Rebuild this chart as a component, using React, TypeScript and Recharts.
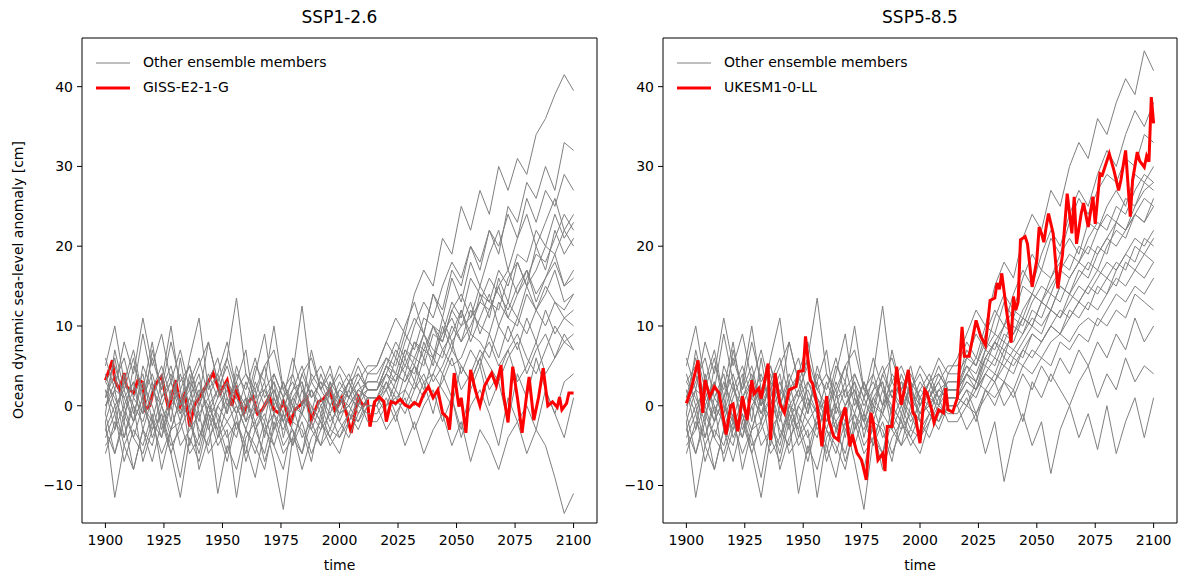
import { LineChart, Line, XAxis, YAxis, ReferenceArea } from "recharts";

// shared historical period (same runs in both panels), 4-yearly
const HIST_YEARS = [1900, 1904, 1908, 1912, 1916, 1920, 1924, 1928, 1932, 1936, 1940, 1944, 1948, 1952, 1956, 1960, 1964, 1968, 1972, 1976, 1980, 1984, 1988, 1992, 1996, 2000, 2004, 2008, 2012];
const FUT_YEARS = [2016, 2020, 2024, 2028, 2032, 2036, 2040, 2044, 2048, 2052, 2056, 2060, 2064, 2068, 2072, 2076, 2080, 2084, 2088, 2092, 2096, 2100];

const HIST = [
  [5, 10, 3, 7, 1, 6, 2, 8, 3, 5, 0, 4, 1, 6, 13.5, 4, 2, 5, 0, 3, -1, 4, 1, 3, 2, 5, 3, 6, 4],
  [-2, -11.5, -5, -8, -3, -7, -2, -6, -11.5, -4, -7, -2, -11, -5, -8, -3, -6, -2, -7, -13, -4, -6, -2, -5, -3, -4, -1, -3, 0],
  [1, 4, -1, 2, 9, 3, -2, 1, 4, 0, 3, -1, 2, 5, 1, -2, 3, 0, 2, -1, 4, 12.5, 3, 1, -1, 2, 4, 1, 3],
  [-3, 0, -5, -2, 1, -4, -1, -6, -2, 1, -3, -5, 0, -2, -4, 1, -3, -6, -1, -3, 0, -4, -2, 1, -2, 0, 2, -1, 1],
  [6, 2, 8, 4, 11, 5, 9, 3, 7, 2, 5, 8, 3, 6, 2, 4, 1, 5, 7, 2, 4, 0, 3, 5, 2, 4, 1, 3, 5],
  [-1, -6, -2, -8, -3, -5, 0, -4, -9, -2, -6, -1, -5, -3, -11.5, -4, -2, -7, -3, -1, -5, -2, -6, -3, -1, -4, -2, 0, -1],
  [2, -1, 3, 0, -2, 2, 5, 1, -1, 3, 1, -3, 0, 2, -1, 1, -2, 0, 3, -4, 1, -1, 2, 0, -3, 1, 0, 2, 1],
  [0, 3, 6, 1, 4, -2, 3, 10, 2, 5, 1, 8, 3, -1, 4, 2, 6, 1, 3, 0, 2, 5, 1, 3, 0, 2, 1, 4, 2],
  [-4, -1, -7, -3, -5, -1, -8, -3, -2, -6, -4, -1, -3, -7, -2, -5, -9, -3, -1, -5, -3, -8, -4, -2, -5, -3, -1, -2, 0],
  [3, 1, -2, 5, 2, 8, 1, 3, 0, 6, 11, 2, 4, 0, 3, 7, -1, 2, 4, 1, 3, 0, 7, 2, 4, 1, 3, 0, 2],
  [-5, -3, 0, -4, -6, -2, -4, 0, -5, -3, -1, -6, -4, -2, 0, -3, -5, -8, -2, -6, -4, -1, -3, -5, 0, -2, -4, -1, 1],
  [1, 6, 0, 3, -3, 1, 4, -2, 6, -1, 2, 0, -3, 3, 1, -1, 4, 9, 1, -2, 2, 3, -1, 4, 1, -1, 2, 5, 2],
  [2, -3, 4, -1, 3, 0, -4, 2, -2, 4, -1, 1, -4, 0, 3, -2, 0, 3, -3, 1, -2, 2, -1, -3, 2, 0, 3, 1, 2],
  [-2, 2, -4, 1, -1, 3, -3, 0, 2, -5, 0, 3, -2, 1, -3, 0, 2, -4, 1, -2, -5, 0, 2, -1, 3, -2, 1, 3, 0],
  [4, 0, 2, 6, 0, -3, 1, 4, 0, 2, -2, 3, 6, 1, -1, 3, 0, -2, 4, 1, 6, 2, 0, -2, 3, 1, -1, 2, 3],
  [-6, -2, -4, 0, -7, -3, -1, -5, -3, 0, -8, -4, -2, -6, -1, -7, -3, -1, -5, -8, -2, -3, -7, -1, -4, -6, -2, 1, -2],
  [0, 2, 1, -2, 5, 2, 0, 3, -1, 1, 4, -2, 1, 3, 0, -3, 1, 2, -1, 3, 0, -1, 4, 2, 0, 3, 1, 0, 4],
  [-1, 7, 2, -2, 1, 4, 0, -3, 1, 3, -4, 0, 2, -1, 5, 1, -3, 0, 2, -2, 1, 3, -3, 0, 2, -1, 0, 2, 1],
  [-3, -6, -1, -4, 0, -2, -6, -3, 1, -2, -5, 0, -1, -4, -2, -6, 0, -3, -5, -1, -3, -6, 0, -2, -4, -1, 0, -2, 1],
  [3, 5, 1, 3, -1, 7, 2, 5, 0, 3, 6, 1, 4, 8, 2, 0, 5, 3, 10, 2, 0, 4, 6, 2, 5, 0, 3, 4, 2],
];

const SSP126 = [
  [5, 8, 11, 9, 14, 17, 15, 21, 19, 25, 22, 27, 24, 30, 27, 31, 29, 34, 36, 39, 41.5, 39.5],
  [0, -3, -1, -5, -2, -6, -3, -1, -5, -2, -7, -3, -5, -8, -4, -2, -6, -3, -5, -9, -13.5, -11],
  [3, 6, 4, 8, 11, 9, 14, 12, 17, 15, 20, 18, 22, 19, 25, 23, 28, 26, 30, 27, 33, 32],
  [1, 4, 2, 6, 3, 8, 5, 10, 7, 12, 9, 14, 11, 16, 13, 18, 15, 20, 17, 22, 19, 21],
  [5, 8, 6, 10, 13, 9, 14, 11, 16, 13, 18, 15, 19, 22, 17, 21, 24, 20, 23, 26, 22, 24],
  [-1, 1, -2, 2, 0, 3, -1, 4, 1, -3, 2, 5, 0, 3, -2, 4, 1, 6, 2, -1, 3, 4],
  [1, 3, 0, 4, 2, 6, 3, 5, 8, 4, 7, 5, 9, 6, 10, 7, 11, 8, 12, 9, 11, 10],
  [2, 5, 3, 7, 5, 9, 6, 11, 8, 10, 13, 9, 12, 15, 11, 14, 17, 13, 16, 19, 15, 17],
  [0, 2, -1, 1, -3, 0, 2, -2, 1, -4, 0, 2, -1, -5, 1, -2, 0, -3, 2, -1, -4, 1],
  [2, 4, 7, 5, 8, 6, 10, 7, 9, 12, 8, 11, 14, 10, 13, 11, 15, 12, 14, 17, 13, 14],
  [1, -1, 2, 0, 3, 1, 4, 2, 0, 5, 3, 6, 2, 4, 7, 3, 5, 8, 4, 6, 9, 7],
  [2, 5, 8, 6, 10, 13, 11, 15, 18, 16, 20, 17, 22, 20, 24, 21, 26, 23, 27, 25, 29, 27],
  [2, 4, 3, 7, 6, 5, 9, 8, 12, 10, 11, 15, 13, 12, 16, 18, 15, 17, 20, 19, 22, 20],
  [0, 3, 1, 2, 5, 3, 4, 7, 5, 6, 9, 8, 6, 10, 8, 11, 9, 12, 10, 13, 11, 12],
  [3, 2, 6, 4, 8, 7, 10, 9, 13, 11, 16, 14, 13, 17, 15, 19, 18, 22, 20, 24, 21, 23],
  [-2, 0, 1, -1, 2, 4, 1, 3, 6, 2, 4, 7, 5, 3, 6, 8, 4, 7, 9, 6, 8, 7],
  [4, 6, 5, 9, 7, 11, 10, 8, 12, 14, 11, 13, 16, 14, 12, 15, 17, 14, 16, 18, 15, 16],
  [1, 2, 4, 3, 5, 2, 6, 4, 7, 5, 3, 6, 8, 5, 7, 9, 6, 4, 7, 10, 8, 9],
  [1, 0, 3, 5, 4, 7, 6, 9, 11, 8, 10, 13, 12, 15, 17, 14, 16, 19, 18, 21, 24, 22],
  [2, 5, 4, 3, 6, 9, 7, 6, 10, 8, 12, 10, 9, 13, 11, 10, 14, 12, 15, 13, 12, 14],
];

const SSP585 = [
  [6, 9, 12, 10, 15, 18, 16, 21, 24, 22, 27, 25, 30, 33, 31, 36, 34, 38, 41, 39, 44.5, 42],
  [0, -3, -1, -6, -2, -9.5, -4, -1, -5, -2, -8.5, -3, 0, -4, -1, -5.5, 0, -6, -2, 1, -4, 1],
  [3, 7, 5, 9, 12, 10, 14, 17, 15, 19, 22, 20, 24, 27, 25, 29, 32, 30, 34, 37, 35, 38],
  [1, 4, 2, 6, 8, 6, 10, 9, 12, 11, 14, 13, 16, 18, 17, 20, 19, 23, 22, 25, 27, 28],
  [5, 8, 6, 10, 9, 13, 11, 15, 14, 17, 16, 19, 21, 19, 23, 22, 25, 27, 25, 29, 28, 30],
  [-1, 1, -2, 2, 0, 3, 1, 4, 2, 5, 3, 6, 4, 7, 5, 8, 6, 9, 7, 11, 8, 10],
  [1, 3, 2, 5, 4, 7, 6, 8, 10, 9, 12, 11, 13, 15, 14, 16, 18, 17, 19, 21, 20, 22],
  [2, 5, 3, 7, 6, 9, 8, 11, 10, 13, 12, 15, 14, 17, 16, 19, 21, 20, 22, 24, 23, 25],
  [0, 2, -1, 1, 3, 0, 2, -2, 3, 1, 4, 2, 0, 3, 5, 1, 4, 2, 6, 3, 5, 4],
  [2, 4, 3, 6, 5, 8, 7, 9, 11, 10, 12, 11, 14, 13, 15, 17, 16, 18, 17, 20, 19, 21],
  [1, 0, 3, 2, 4, 3, 6, 5, 7, 6, 8, 9, 8, 10, 11, 10, 12, 14, 13, 15, 14, 16],
  [2, 6, 9, 7, 11, 14, 12, 16, 19, 17, 21, 19, 23, 26, 24, 27, 29, 28, 31, 30, 34, 33],
  [2, 4, 6, 5, 8, 10, 9, 12, 14, 13, 16, 18, 17, 20, 19, 22, 24, 23, 26, 25, 28, 27],
  [0, 2, 1, 4, 3, 6, 5, 7, 9, 8, 10, 12, 11, 13, 15, 14, 16, 15, 18, 17, 19, 18],
  [3, 5, 4, 7, 9, 8, 11, 10, 13, 15, 14, 17, 19, 18, 21, 23, 22, 25, 24, 27, 29, 28],
  [-2, 0, -1, 2, 1, 3, 2, 5, 4, 6, 5, 8, 7, 9, 8, 11, 10, 12, 11, 14, 13, 12],
  [4, 6, 5, 8, 7, 10, 12, 11, 14, 13, 15, 17, 16, 18, 20, 19, 21, 23, 22, 24, 26, 25],
  [1, 3, 2, 4, 6, 5, 7, 6, 9, 8, 10, 9, 12, 11, 13, 12, 14, 16, 15, 17, 16, 18],
  [1, 0, 2, 4, 3, 5, 4, 7, 6, 8, 10, 9, 11, 13, 12, 15, 14, 17, 19, 18, 21, 20],
  [2, 4, 3, 6, 8, 7, 9, 11, 10, 13, 12, 15, 14, 16, 18, 17, 20, 22, 21, 24, 23, 26],
];

// highlighted models: [year, anomaly cm]
const GISS_E2_1_G: [number, number][] = [
  [1900, 3.2], [1901, 4.0], [1903, 5.7], [1904, 3.2], [1906, 2.0], [1908, 4.1], [1909, 2.4], [1912, 1.6], [1914, 3.3], [1916, 2.9],
  [1917, -0.5], [1919, 0.0], [1921, 2.5], [1924, 3.7], [1927, -0.5], [1930, 3.2], [1932, 0.0], [1934, 1.5], [1936, -2.6], [1938, 0.0],
  [1940, 1.0], [1943, 2.5], [1946, 4.1], [1949, 1.6], [1952, 3.2], [1954, 0.0], [1956, 2.0], [1959, -0.9], [1961, 0.5], [1963, 1.1],
  [1965, -1.0], [1967, -0.5], [1970, 1.1], [1972, -0.5], [1974, -0.9], [1976, 0.5], [1979, -2.1], [1981, -0.5], [1983, 0.0], [1986, 1.0],
  [1988, -1.8], [1991, 0.5], [1993, 0.8], [1996, 2.0], [1998, -0.5], [2001, 1.0], [2003, -1.0], [2005, -3.4], [2008, 1.1], [2010, 0.0],
  [2012, 0.5], [2013, -2.6], [2015, 0.5], [2017, 1.1], [2019, 0.5], [2020, -2.0], [2022, 0.5], [2024, 0.3], [2026, 0.8], [2028, 0.1],
  [2030, -0.2], [2032, 0.4], [2034, 0.0], [2036, 1.5], [2038, 2.4], [2040, 1.0], [2042, 2.0], [2044, -0.9], [2046, -1.5], [2047, -3.0],
  [2049, 4.1], [2051, -0.1], [2052, 1.0], [2054, -3.4], [2056, 4.5], [2058, 2.0], [2060, 0.0], [2062, 2.5], [2065, 4.1], [2067, 2.5],
  [2069, 5.1], [2070, 1.5], [2072, -2.1], [2074, 4.9], [2076, 1.0], [2078, -3.4], [2080, 1.5], [2081, 3.6], [2083, -1.8], [2085, 1.0],
  [2087, 4.7], [2089, 0.0], [2091, 0.5], [2093, -0.2], [2094, 1.1], [2095, -0.5], [2097, 0.3], [2098, 1.6], [2100, 1.6],
];

const UKESM1_0_LL: [number, number][] = [
  [1900, 0.3], [1902, 2.0], [1905, 5.7], [1907, -0.9], [1908, 3.2], [1910, 1.1], [1912, 2.4], [1914, 1.6], [1917, -3.6], [1919, 0.0],
  [1920, 0.2], [1922, -3.2], [1924, 1.2], [1926, -1.8], [1928, 3.2], [1929, 1.5], [1931, 2.2], [1932, 0.9], [1935, 5.3], [1936, -4.3],
  [1938, 4.1], [1940, 0.3], [1942, -0.9], [1944, 2.0], [1947, 2.4], [1948, 4.3], [1950, 4.4], [1951, 8.7], [1953, 3.2], [1954, 2.8],
  [1956, 0.0], [1958, -5.1], [1960, 1.2], [1961, -1.8], [1963, -3.8], [1965, -4.3], [1966, -2.1], [1968, -0.2], [1970, -5.1], [1971, -3.6],
  [1973, -5.9], [1975, -6.8], [1977, -9.3], [1979, -0.9], [1980, -2.1], [1982, -6.8], [1984, -6.0], [1985, -8.2], [1986, -2.6], [1988, -2.6],
  [1990, 4.9], [1992, 0.1], [1995, 4.5], [1997, -0.9], [1998, -1.3], [2000, -4.7], [2002, 2.0], [2003, 1.6], [2005, -0.5], [2006, -2.1],
  [2008, -0.5], [2010, -0.9], [2011, 2.2], [2012, -0.5], [2014, -0.8], [2016, 1.0], [2018, 9.9], [2019, 6.2], [2021, 6.2], [2024, 10.7],
  [2026, 8.7], [2028, 7.6], [2030, 13.2], [2032, 13.5], [2033, 15.4], [2034, 14.6], [2035, 16.6], [2037, 12.0], [2039, 7.9], [2040, 13.7],
  [2041, 12.0], [2042, 13.0], [2043, 20.8], [2045, 21.2], [2046, 20.3], [2048, 14.9], [2050, 18.3], [2051, 22.4], [2052, 21.6], [2053, 20.5],
  [2054, 22.4], [2055, 24.1], [2057, 21.6], [2059, 14.7], [2061, 19.0], [2063, 26.6], [2065, 21.6], [2066, 26.2], [2067, 20.3], [2069, 24.1],
  [2070, 25.4], [2072, 22.4], [2074, 26.2], [2075, 22.8], [2077, 29.1], [2078, 28.9], [2081, 31.6], [2083, 29.5], [2085, 27.0], [2086, 28.3],
  [2088, 32.0], [2090, 23.7], [2091, 28.3], [2093, 31.8], [2094, 30.7], [2096, 29.9], [2097, 31.3], [2098, 30.6], [2099, 38.7], [2100, 35.4],
];

const X_TICKS = [1900, 1925, 1950, 1975, 2000, 2025, 2050, 2075, 2100];
const Y_TICKS = [-10, 0, 10, 20, 30, 40];
const X_DOMAIN = [1890, 2110];
const Y_DOMAIN = [-14.7, 46.1];

const FONT = "'DejaVu Sans', sans-serif";
const GREY = "#808080";
const RED = "#ff0000";

const member = (hist: number[], fut: number[]) => [
  ...HIST_YEARS.map((year, i) => ({ year, v: hist[i] })),
  ...FUT_YEARS.map((year, i) => ({ year, v: fut[i] })),
];
const pairs = (list: [number, number][]) => list.map(([year, v]) => ({ year, v }));

const fmt = (v: number) => (v < 0 ? `\u2212${-v}` : `${v}`);

function Panel({ left, width, marginLeft, marginRight, title, future, red, redName, redUnderHist }: any) {
  const redAll = pairs(red);
  const redHist = redAll.filter((d) => d.year <= 2015);
  const redFut = redAll.filter((d) => d.year >= 2013);
  const plotLeft = left + marginLeft + 60;
  const plotRight = left + width - marginRight;
  const cx = (plotLeft + plotRight) / 2;
  return (
    <>
      <div style={{ position: "absolute", left: cx - 100, width: 200, top: 7, textAlign: "center", fontSize: 17, fontFamily: FONT }}>{title}</div>
      <div style={{ position: "absolute", left: cx - 100, width: 200, top: 557, textAlign: "center", fontSize: 14, fontFamily: FONT }}>time</div>
      <div style={{ position: "absolute", left }}>
        <LineChart width={width} height={575} margin={{ top: 38, right: marginRight, bottom: 22, left: marginLeft }}>
          <XAxis dataKey="year" type="number" domain={X_DOMAIN} ticks={X_TICKS} allowDataOverflow axisLine={false}
            tickLine={{ stroke: "#000" }} tickSize={5} tickMargin={7} height={30}
            tick={{ fill: "#000", fontSize: 14, fontFamily: FONT }} />
          <YAxis type="number" domain={Y_DOMAIN} ticks={Y_TICKS} allowDataOverflow axisLine={false} width={60}
            tickLine={{ stroke: "#000" }} tickSize={5} tickMargin={4} tickFormatter={fmt}
            tick={{ fill: "#000", fontSize: 14, fontFamily: FONT }} />
          {redUnderHist && (
            <Line data={redHist} dataKey="v" stroke={RED} strokeWidth={3} dot={false} activeDot={false} isAnimationActive={false} />
          )}
          {HIST.map((h, i) => (
            <Line key={i} data={member(h, future[i])} dataKey="v" stroke={GREY} strokeWidth={1} dot={false} activeDot={false} isAnimationActive={false} />
          ))}
          <Line data={redUnderHist ? redFut : redAll} dataKey="v" stroke={RED} strokeWidth={3} dot={false} activeDot={false} isAnimationActive={false} />
          <ReferenceArea x1={X_DOMAIN[0]} x2={X_DOMAIN[1]} y1={Y_DOMAIN[0]} y2={Y_DOMAIN[1]} fill="none" stroke="#000" strokeWidth={1} ifOverflow="visible" />
        </LineChart>
      </div>
      <div style={{ position: "absolute", left: plotLeft + 14, top: 50, fontFamily: FONT, fontSize: 14, lineHeight: "25px" }}>
        <div style={{ display: "flex", alignItems: "center" }}>
          <svg width={34} height={10} style={{ marginRight: 13 }}><line x1={0} y1={5} x2={34} y2={5} stroke={GREY} strokeWidth={1} /></svg>
          Other ensemble members
        </div>
        <div style={{ display: "flex", alignItems: "center" }}>
          <svg width={34} height={10} style={{ marginRight: 13 }}><line x1={0} y1={5} x2={34} y2={5} stroke={RED} strokeWidth={3} /></svg>
          {redName}
        </div>
      </div>
    </>
  );
}

export default function App() {
  return (
    <div style={{ position: "absolute", left: 0, top: 0, width: 1178, height: 575, background: "#fff", overflow: "hidden" }}>
      <div style={{ position: "absolute", left: 18 - 200, top: 280 - 10, width: 400, textAlign: "center", fontSize: 14, fontFamily: FONT, transform: "rotate(-90deg)", lineHeight: "20px" }}>
        Ocean dynamic sea-level anomaly [cm]
      </div>
      <Panel left={0} width={600} marginLeft={22} marginRight={3} title="SSP1-2.6" future={SSP126} red={GISS_E2_1_G} redName="GISS-E2-1-G" redUnderHist />
      <Panel left={600} width={578} marginLeft={3} marginRight={1} title="SSP5-8.5" future={SSP585} red={UKESM1_0_LL} redName="UKESM1-0-LL" redUnderHist={false} />
    </div>
  );
}
